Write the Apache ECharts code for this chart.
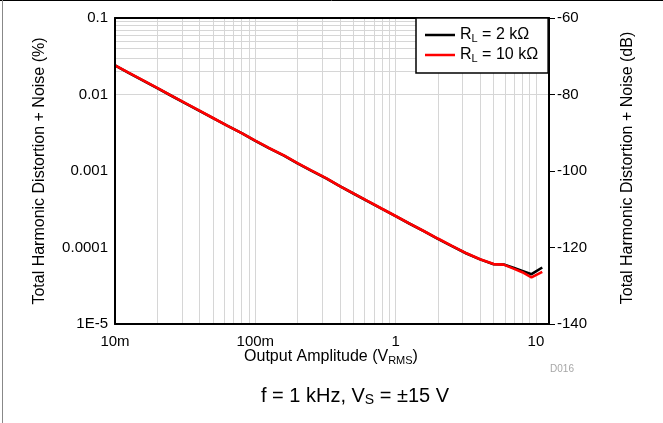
<!DOCTYPE html>
<html>
<head>
<meta charset="utf-8">
<script src="https://cdn.jsdelivr.net/npm/echarts@6/dist/echarts.min.js"></script>
<style>html,body{margin:0;padding:0;background:#fff;}#c{width:663px;height:423px;}</style>
</head>
<body>
<div id="c"></div>
<script>
// Output amplitude (V RMS)
const amplitude = [0.01, 0.0125, 0.016, 0.02, 0.025, 0.032, 0.04, 0.05, 0.063, 0.08, 0.1, 0.125, 0.16, 0.2, 0.25, 0.32, 0.4, 0.5, 0.63, 0.8, 1, 1.25, 1.6, 2, 2.5, 3.2, 4, 5, 5.9, 7, 8, 9.3, 11.1];
// THD+N (%) RL = 2 kOhm
const thdRL2k = [0.0240, 0.0192, 0.0151, 0.0121, 0.00970, 0.00760, 0.00612, 0.00491, 0.00392, 0.00312, 0.00248, 0.00199, 0.00159, 0.00126, 0.00101, 0.000800, 0.000634, 0.000508, 0.000405, 0.000320, 0.000257, 0.000206, 0.000162, 0.000130, 0.000105, 0.0000835, 0.0000700, 0.0000605, 0.0000600, 0.0000540, 0.0000495, 0.0000448, 0.0000548];
// THD+N (%) RL = 10 kOhm
const thdRL10k = [0.0241, 0.0193, 0.0152, 0.0122, 0.00973, 0.00765, 0.00614, 0.00493, 0.00393, 0.00313, 0.00249, 0.00200, 0.00160, 0.00127, 0.00102, 0.000805, 0.000636, 0.000510, 0.000406, 0.000321, 0.000258, 0.000207, 0.000163, 0.000131, 0.000106, 0.0000840, 0.0000702, 0.0000607, 0.0000598, 0.0000525, 0.0000475, 0.0000406, 0.0000480];

const xTickLabels = {'-2': '10m', '-1': '100m', '0': '1', '1': '10'};
const yTickLabels = {'-1': '0.1', '-2': '0.01', '-3': '0.001', '-4': '0.0001', '-5': '1E-5'};
const xGridValues = [0.02,0.03,0.04,0.05,0.06,0.07,0.08,0.09,0.1,0.2,0.3,0.4,0.5,0.6,0.7,0.8,0.9,1,2,3,4,5,6,7,8,9,10];
const yGridValues = [0.00002,0.00003,0.00004,0.00005,0.00006,0.00007,0.00008,0.00009,0.0001,0.0002,0.0003,0.0004,0.0005,0.0006,0.0007,0.0008,0.0009,0.001,0.002,0.003,0.004,0.005,0.006,0.007,0.008,0.009,0.01,0.02,0.03,0.04,0.05,0.06,0.07,0.08,0.09];

const FONT = '"Liberation Sans", Arial, sans-serif';
const chart = echarts.init(document.getElementById('c'), null, {renderer: 'canvas'});

function pairs(ys) { return amplitude.map((x, i) => [x, ys[i]]); }
function lbl(map, v) {
  const e = Math.log10(v);
  const r = Math.round(e);
  if (Math.abs(e - r) < 1e-6 && map[String(r)] !== undefined) return map[String(r)];
  return '';
}

const gridLine = {color: '#d6d6d6', width: 1, type: 'solid'};
const frame = {show: true, lineStyle: {color: '#000', width: 2}};

chart.setOption({
  animation: false,
  backgroundColor: '#fff',
  grid: {left: 115, right: 114, top: 18, bottom: 99, show: false},
  xAxis: [{
    type: 'log', logBase: 10, min: 0.01, max: 12.4, splitNumber: 3, z: 6,
    axisLine: frame, axisTick: {show: false}, splitLine: {show: false},
    axisLabel: {margin: 10, fontSize: 15, fontFamily: FONT, color: '#000', showMinLabel: true, showMaxLabel: true,
      formatter: v => lbl(xTickLabels, v)}
  }, {
    type: 'log', logBase: 10, min: 0.01, max: 12.4, position: 'top', z: 6,
    axisLine: frame, axisTick: {show: false}, splitLine: {show: false}, axisLabel: {show: false}
  }],
  yAxis: [{
    type: 'log', logBase: 10, min: 0.00001, max: 0.1, splitNumber: 4, z: 6,
    axisLine: frame, axisTick: {show: false}, splitLine: {show: false},
    axisLabel: {margin: 7, fontSize: 15, fontFamily: FONT, color: '#000', formatter: v => lbl(yTickLabels, v)}
  }, {
    type: 'value', position: 'right', min: -140, max: -60, interval: 20, z: 6,
    axisLine: frame,
    axisTick: {show: true, inside: false, length: 6, lineStyle: {color: '#000', width: 1}},
    splitLine: {show: false},
    axisLabel: {margin: 8, fontSize: 15, fontFamily: FONT, color: '#000'}
  }],
  legend: {
    data: ['RL2k', 'RL10k'], orient: 'vertical', left: 416, top: 18, z: 8,
    icon: 'rect', itemWidth: 30, itemHeight: 2.5,
    padding: [9, 10, 9, 9], itemGap: 3,
    backgroundColor: '#fff', borderColor: '#000', borderWidth: 1.5, borderRadius: 0,
    formatter: n => n === 'RL2k' ? '{r|R}{s|L}{r| = 2 kΩ}' : '{r|R}{s|L}{r| = 10 kΩ}',
    textStyle: {fontFamily: FONT, color: '#000', rich: {
      r: {fontSize: 16, fontFamily: FONT, color: '#000', lineHeight: 18},
      s: {fontSize: 11, fontFamily: FONT, color: '#000', lineHeight: 11, padding: [5, 0, 0, 0], verticalAlign: 'bottom'}
    }}
  },
  series: [{
    name: 'grid', type: 'line', data: [], silent: true, z: 1,
    markLine: {silent: true, z: 1, symbol: ['none', 'none'], label: {show: false}, lineStyle: gridLine, animation: false,
      emphasis: {disabled: true},
      data: xGridValues.map(v => ({xAxis: v})).concat(yGridValues.map(v => ({yAxis: v})))}
  }, {
    name: 'RL2k', type: 'line', data: pairs(thdRL2k), showSymbol: false, symbol: 'none', z: 3,
    lineStyle: {color: '#000', width: 2.6}, itemStyle: {color: '#000'}
  }, {
    name: 'RL10k', type: 'line', data: pairs(thdRL10k), showSymbol: false, symbol: 'none', z: 4,
    lineStyle: {color: '#ff0000', width: 2.6}, itemStyle: {color: '#ff0000'}
  }],
  graphic: [
    {type: 'line', shape: {x1: 0, y1: 0.5, x2: 663, y2: 0.5}, style: {stroke: '#000', lineWidth: 1}},
    {type: 'line', shape: {x1: 2.5, y1: 0, x2: 2.5, y2: 423}, style: {stroke: '#888', lineWidth: 1}},
    {type: 'text', x: 40, y: 171, rotation: Math.PI / 2,
      style: {text: 'Total Harmonic Distortion + Noise (%)', font: '16px ' + FONT, fill: '#000', align: 'center', verticalAlign: 'middle'}},
    {type: 'text', x: 628, y: 168, rotation: Math.PI / 2,
      style: {text: 'Total Harmonic Distortion + Noise (dB)', font: '16px ' + FONT, fill: '#000', align: 'center', verticalAlign: 'middle'}},
    {type: 'text', x: 331, y: 357,
      style: {text: '{a|Output Amplitude (V}{b|RMS}{a|)}', align: 'center', verticalAlign: 'middle', rich: {
        a: {fontSize: 16, fontFamily: FONT, color: '#000', lineHeight: 18},
        b: {fontSize: 11, fontFamily: FONT, color: '#000', lineHeight: 11, padding: [5, 0, 0, 0], verticalAlign: 'bottom'}
      }}},
    {type: 'text', x: 562, y: 369,
      style: {text: 'D016', font: '10px ' + FONT, fill: '#a6a6a6', align: 'center', verticalAlign: 'middle'}},
    {type: 'text', x: 355, y: 396,
      style: {text: '{a|f = 1 kHz, V}{b|S}{a| = ±15 V}', align: 'center', verticalAlign: 'middle', rich: {
        a: {fontSize: 20, fontFamily: FONT, color: '#000', lineHeight: 22},
        b: {fontSize: 14, fontFamily: FONT, color: '#000', lineHeight: 14, padding: [6, 0, 0, 0], verticalAlign: 'bottom'}
      }}}
  ]
});
</script>
</body>
</html>
